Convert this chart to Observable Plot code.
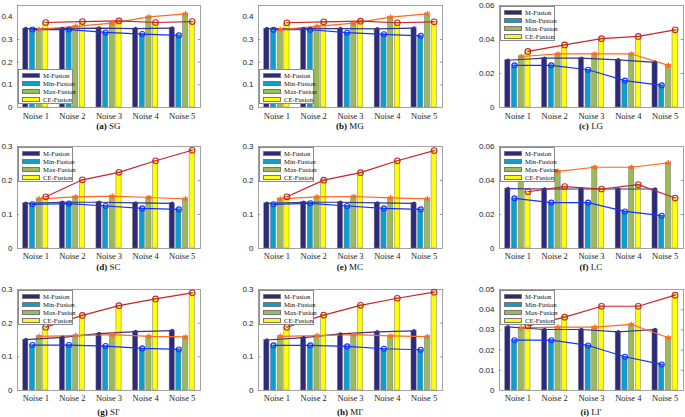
<!DOCTYPE html>
<html><head><meta charset="utf-8">
<script src="https://cdn.jsdelivr.net/npm/d3@7"></script>
<script src="https://cdn.jsdelivr.net/npm/@observablehq/plot@0.6"></script>
<style>
body{margin:0;background:#fff;}
#root{position:relative;width:685px;height:417px;overflow:hidden;background:#fff;}
.panel{position:absolute;}
.title{position:absolute;font-family:"Liberation Serif",serif;font-size:9px;white-space:nowrap;transform:translate(-50%,-50%);color:#111;}
.title b{font-weight:bold;}
.legend{position:absolute;background:#fff;border:1px solid #8a8a8a;box-sizing:border-box;width:55px;height:35px;padding-top:1px;}
.lrow{display:flex;align-items:center;height:8px;font-family:"Liberation Serif",serif;font-size:6.7px;color:#111;white-space:nowrap;}
.sw{display:inline-block;flex:none;width:18px;height:5px;margin:0 3px 0 3px;box-sizing:border-box;border:0.5px solid #777;}
</style></head><body><div id="root"></div>
<script>
// ---------- data ----------
const noiseLabels = ["Noise 1", "Noise 2", "Noise 3", "Noise 4", "Noise 5"];
const seriesNames = ["M-Fusion", "Min-Fusion", "Max-Fusion", "CE-Fusion"];
const panelTags = ["(a)", "(b)", "(c)", "(d)", "(e)", "(f)", "(g)", "(h)", "(i)"];
const panelNames = ["SG", "MG", "LG", "SC", "MC", "LC", "SI\u2032", "MI\u2032", "LI\u2032"];

const ticksG = [0, 0.1, 0.2, 0.3, 0.4];
const ticksL6 = [0, 0.02, 0.04, 0.06];
const ticksC = [0, 0.1, 0.2, 0.3];
const ticksL5 = [0, 0.01, 0.02, 0.03, 0.04, 0.05];

const sgM   = [0.348, 0.348, 0.350, 0.348, 0.350];
const sgMin = [0.344, 0.344, 0.331, 0.324, 0.318];
const sgMax = [0.345, 0.358, 0.372, 0.400, 0.413];
const sgCE  = [0.375, 0.379, 0.382, 0.375, 0.379];

const mgM   = [0.348, 0.348, 0.348, 0.347, 0.350];
const mgMin = [0.343, 0.343, 0.330, 0.323, 0.316];
const mgMax = [0.344, 0.358, 0.372, 0.399, 0.413];
const mgCE  = [0.374, 0.378, 0.381, 0.374, 0.378];

const lgM   = [0.0278, 0.0290, 0.0290, 0.0280, 0.0266];
const lgMin = [0.0248, 0.0248, 0.0222, 0.0158, 0.0130];
const lgMax = [0.0300, 0.0315, 0.0315, 0.0315, 0.0248];
const lgCE  = [0.0330, 0.0368, 0.0405, 0.0418, 0.0457];

const scM   = [0.133, 0.136, 0.136, 0.134, 0.133];
const scMin = [0.130, 0.132, 0.125, 0.118, 0.115];
const scMax = [0.146, 0.152, 0.154, 0.150, 0.146];
const scCE  = [0.152, 0.202, 0.224, 0.258, 0.289];

const mcM   = [0.133, 0.136, 0.136, 0.134, 0.133];
const mcMin = [0.130, 0.133, 0.125, 0.118, 0.115];
const mcMax = [0.146, 0.152, 0.153, 0.149, 0.146];
const mcCE  = [0.152, 0.201, 0.223, 0.258, 0.288];

const lcM   = [0.0352, 0.0350, 0.0350, 0.0350, 0.0350];
const lcMin = [0.0295, 0.0270, 0.0270, 0.0218, 0.0193];
const lcMax = [0.0440, 0.0454, 0.0478, 0.0478, 0.0504];
const lcCE  = [0.0334, 0.0364, 0.0350, 0.0376, 0.0297];

const siM   = [0.151, 0.158, 0.169, 0.175, 0.178];
const siMin = [0.135, 0.135, 0.132, 0.125, 0.122];
const siMax = [0.161, 0.163, 0.166, 0.161, 0.159];
const siCE  = [0.188, 0.223, 0.252, 0.272, 0.290];

const miM   = [0.150, 0.157, 0.168, 0.174, 0.177];
const miMin = [0.134, 0.134, 0.131, 0.124, 0.121];
const miMax = [0.161, 0.163, 0.166, 0.162, 0.160];
const miCE  = [0.188, 0.224, 0.253, 0.274, 0.292];

const liM   = [0.0315, 0.0302, 0.0302, 0.0290, 0.0302];
const liMin = [0.0249, 0.0249, 0.0223, 0.0167, 0.0129];
const liMax = [0.0310, 0.0314, 0.0314, 0.0327, 0.0261];
const liCE  = [0.0320, 0.0363, 0.0417, 0.0417, 0.0472];

// ---------- styles ----------
const barColors  = ["#2d2a7e", "#0a9fd1", "#9bbb59", "#ffff00"];
const lineColors = ["#34348a", "#1232ff", "#ff6a1c", "#c3262b"];

const panels = [
  {vals: [sgM, sgMin, sgMax, sgCE], yMax: 0.45, ticks: ticksG, legend: "bottom"},
  {vals: [mgM, mgMin, mgMax, mgCE], yMax: 0.45, ticks: ticksG, legend: "bottom"},
  {vals: [lgM, lgMin, lgMax, lgCE], yMax: 0.06, ticks: ticksL6, legend: "top"},
  {vals: [scM, scMin, scMax, scCE], yMax: 0.3, ticks: ticksC, legend: "top"},
  {vals: [mcM, mcMin, mcMax, mcCE], yMax: 0.3, ticks: ticksC, legend: "top"},
  {vals: [lcM, lcMin, lcMax, lcCE], yMax: 0.06, ticks: ticksL6, legend: "top"},
  {vals: [siM, siMin, siMax, siCE], yMax: 0.3, ticks: ticksC, legend: "top"},
  {vals: [miM, miMin, miMax, miCE], yMax: 0.3, ticks: ticksC, legend: "top"},
  {vals: [liM, liMin, liMax, liCE], yMax: 0.05, ticks: ticksL5, legend: "top"}
];

const cols = [
  {left: 0,   width: 228, ml: 17, mr: 28},
  {left: 230, width: 226, ml: 28, mr: 14},
  {left: 460, width: 225, ml: 39, mr: 2}
];
const rows = [
  {top: 0,   height: 122, mt: 5, mb: 15, titleY: 126, tp: 5},
  {top: 140, height: 125, mt: 6, mb: 17, titleY: 266.5, tp: 4},
  {top: 280, height: 123, mt: 9, mb: 13, titleY: 412, tp: 4}
];

const nS = seriesNames.length;
const groupWidth = Math.min(0.8, nS / (nS + 1.5));
const step = groupWidth / nS;
const barW = step * 0.78;
const offset = k => (k - (nS - 1) / 2) * step;
const xDomain = [0.5, noiseLabels.length + 0.5];
const xTicks = noiseLabels.map((_, i) => i + 1);

const root = document.getElementById("root");

panels.forEach((p, pi) => {
  const col = cols[pi % 3], row = rows[Math.floor(pi / 3)];
  const data = [];
  p.vals.forEach((arr, k) => arr.forEach((v, i) => data.push({
    series: seriesNames[k], k, noise: noiseLabels[i], xc: i + 1 + offset(k), value: v
  })));
  const edge = (xDomain[1] - xDomain[0]) * 0.012;
  const marks = [
    Plot.rectY(data, {x1: d => d.xc - barW / 2, x2: d => d.xc + barW / 2, y1: 0, y2: "value",
      fill: "series", stroke: "#7a7a7a", strokeWidth: 0.5}),
    Plot.ruleY(p.ticks.slice(1, -1), {x1: xDomain[0], x2: xDomain[0] + edge, stroke: "#555", strokeWidth: 0.6}),
    Plot.ruleY(p.ticks.slice(1, -1), {x1: xDomain[1] - edge, x2: xDomain[1], stroke: "#555", strokeWidth: 0.6}),
    Plot.frame({stroke: "#8a8a8a", strokeWidth: 0.8})
  ];
  seriesNames.forEach((s, k) => {
    const sd = data.filter(d => d.k === k);
    marks.push(Plot.line(sd, {x: "xc", y: "value", stroke: lineColors[k], strokeWidth: 1.2}));
  });
  // markers
  marks.push(Plot.dot(data.filter(d => d.k === 0), {x: "xc", y: "value", r: 1.8, fill: lineColors[0], stroke: "none"}));
  marks.push(Plot.dot(data.filter(d => d.k === 1), {x: "xc", y: "value", r: 2.5, fill: "none", stroke: lineColors[1], strokeWidth: 1.1}));
  marks.push(Plot.dot(data.filter(d => d.k === 2), {x: "xc", y: "value", r: 2.6, symbol: "asterisk", stroke: lineColors[2], strokeWidth: 1.2}));
  marks.push(Plot.dot(data.filter(d => d.k === 3), {x: "xc", y: "value", r: 2.8, fill: "none", stroke: lineColors[3], strokeWidth: 1.1}));
  marks.push(Plot.axisY({ticks: p.ticks, tickFormat: d => String(d), tickSize: 0, tickPadding: 5,
    fontFamily: "Liberation Sans", fontSize: 8, fill: "#222"}));
  marks.push(Plot.axisX({ticks: xTicks, tickFormat: d => noiseLabels[d - 1], tickSize: 0, tickPadding: row.tp,
    fontFamily: "Liberation Serif", fontSize: 8.5, fill: "#222"}));

  const plot = Plot.plot({
    width: col.width, height: row.height,
    marginLeft: col.ml, marginRight: col.mr, marginTop: row.mt, marginBottom: row.mb,
    x: {type: "linear", domain: xDomain, label: null},
    y: {domain: [0, p.yMax], label: null},
    color: {domain: seriesNames, range: barColors},
    style: {background: "transparent", overflow: "visible", fontFamily: "Liberation Sans"},
    marks
  });
  plot.classList.add("panel");
  plot.style.left = col.left + "px";
  plot.style.top = row.top + "px";
  root.appendChild(plot);

  const xs = plot.scale("x"), ys = plot.scale("y");
  // legend
  const lg = document.createElement("div");
  lg.className = "legend";
  const fl = col.left + xs.apply(xDomain[0]);
  lg.style.left = (fl + 1) + "px";
  if (p.legend === "bottom") {
    lg.style.top = (row.top + ys.apply(0) - 3 - 35) + "px";
  } else {
    lg.style.top = (row.top + ys.apply(p.yMax) + 1) + "px";
  }
  seriesNames.forEach((s, k) => {
    const r = document.createElement("div");
    r.className = "lrow";
    r.innerHTML = `<span class="sw" style="background:${barColors[k]}"></span><span>${s}</span>`;
    lg.appendChild(r);
  });
  root.appendChild(lg);

  // title
  const t = document.createElement("div");
  t.className = "title";
  t.innerHTML = `<b>${panelTags[pi]}</b> ${panelNames[pi]}`;
  t.style.left = (col.left + xs.apply((xDomain[0] + xDomain[1]) / 2)) + "px";
  t.style.top = row.titleY + "px";
  root.appendChild(t);
});
</script></body></html>
